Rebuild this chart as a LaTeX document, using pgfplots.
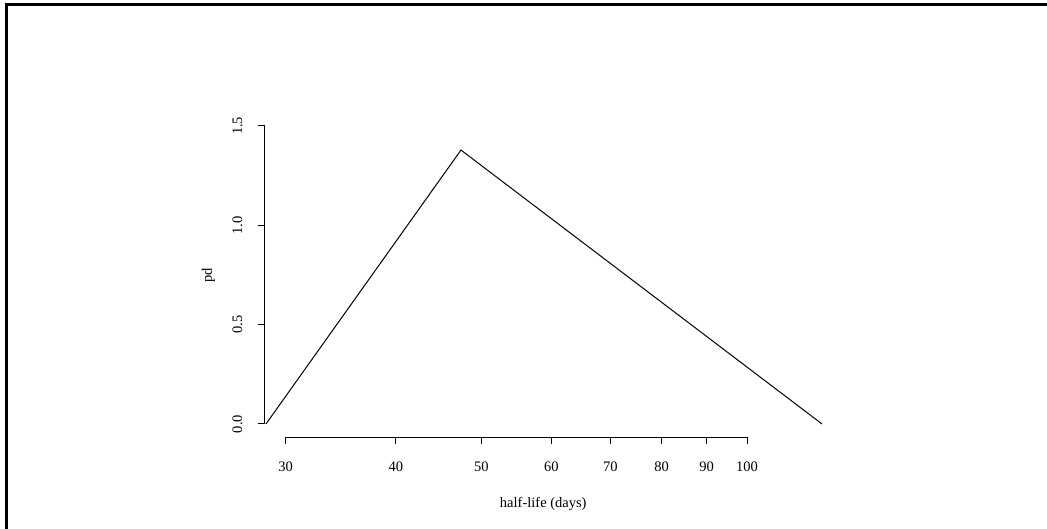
\documentclass[border=0pt]{standalone}
\usepackage{pgfplots}
\pgfplotsset{compat=1.18}
\usepackage{fontspec}
\setmainfont{Liberation Serif}

% density of the half-life: triangular in log(days)
\pgfplotstableread{
x      pd
28.5   0
47.4   1.3785
121.6  0
}\pdtable

\begin{document}
\fontsize{14.5}{17}\selectfont
\begin{tikzpicture}
\useasboundingbox (0pt,0pt) rectangle (1047pt,529pt);
% frame
\draw[line width=3pt] (6pt,0pt) -- (6pt,524pt) -- (1047pt,524pt);
\begin{axis}[
  at={(264.5pt,91.7pt)}, anchor=south west,
  scale only axis, width=557.5pt, height=323.3pt,
  xmode=log, xmin=28.39, xmax=121.6,
  ymin=-0.067, ymax=1.56,
  clip=false,
  axis line style={draw=none},
  tick align=outside, tick pos=left,
  major tick length=7pt,
  every tick/.style={black, line width=1pt},
  xtick={30,40,50,60,70,80,90,100},
  xticklabels={30,40,50,60,70,80,90,100},
  minor xtick={},
  ytick={0,0.5,1,1.5},
  yticklabels={0.0,0.5,1.0,1.5},
  tick label style={font=\fontsize{14.5}{17}\selectfont},
  xticklabel style={anchor=base},
  xticklabel shift=27.4pt,
  yticklabel style={rotate=90, anchor=base},
  yticklabel shift=15.4pt,
  xlabel={half-life (days)},
  xlabel style={at={([yshift=-70.7pt]axis description cs:0.5,0)}, anchor=base, font=\fontsize{14.5}{17}\selectfont},
  ylabel={pd},
  ylabel style={at={([xshift=-52.7pt]axis description cs:0,0.5)}, anchor=base, font=\fontsize{14.5}{17}\selectfont},
]
\draw[line width=1pt] (axis cs:30,-0.067) -- (axis cs:100,-0.067);
\draw[line width=1pt] (axis cs:28.39,0) -- (axis cs:28.39,1.5);
\addplot[black, line width=1pt] table[x=x, y=pd] {\pdtable};
\end{axis}
\end{tikzpicture}
\end{document}
